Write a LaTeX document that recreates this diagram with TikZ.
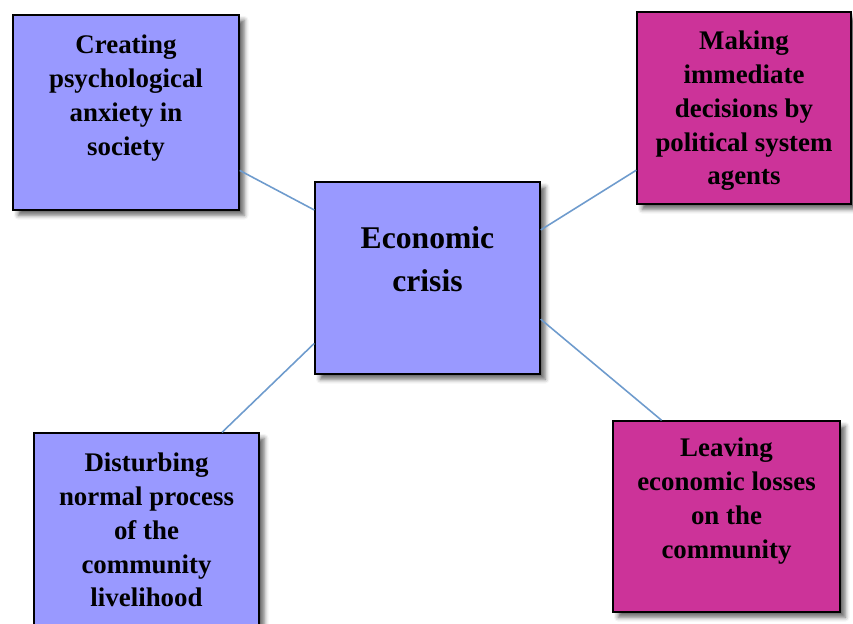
\documentclass[tikz,border=0pt]{standalone}
\usepackage{fontspec}
\setmainfont{Liberation Serif}
\usetikzlibrary{shadows.blur}
\definecolor{lavender}{HTML}{9999FF}
\definecolor{berry}{HTML}{CC3399}
\definecolor{linkblue}{RGB}{110,155,205}
\tikzset{%
  box/.style={draw=black, line width=0.8pt, inner sep=0pt,
              blur shadow={shadow xshift=3pt, shadow yshift=-3pt,
                           shadow blur radius=2.5pt, shadow opacity=60}},
  bluebox/.style={box, fill=lavender},
  pinkbox/.style={box, fill=berry},
  boxtext/.style={anchor=north, inner sep=0pt, align=center,
                  font=\bfseries\fontsize{15.3}{19.3}\selectfont},
  link/.style={draw=linkblue, line width=0.9pt},
}
\begin{document}
\begin{tikzpicture}[x=0.02cm,y=-0.02cm]
  \useasboundingbox (0,0) rectangle (853,623);
  % boxes
  \node[bluebox, minimum width=4.52cm, minimum height=3.9cm] (anxiety) at (126,112.5) {};
  \node[pinkbox, minimum width=4.28cm, minimum height=3.84cm] (decisions) at (744,108) {};
  \node[bluebox, minimum width=4.5cm, minimum height=3.84cm] (crisis) at (427.5,278) {};
  \node[bluebox, minimum width=4.5cm, minimum height=3.84cm] (process) at (146.5,529) {};
  \node[pinkbox, minimum width=4.54cm, minimum height=3.82cm] (losses) at (726.5,516.5) {};
  % texts
  \node[boxtext] (anxietytext) at ([yshift=-0.4cm]anxiety.north)
    {Creating\\psychological\\anxiety in\\society};
  \node[boxtext] (decisionstext) at ([yshift=-0.38cm]decisions.north)
    {Making\\immediate\\decisions by\\political system\\agents};
  \node[boxtext, font=\bfseries\fontsize{18}{24.4}\selectfont] (crisistext)
    at ([yshift=-0.9cm]crisis.north) {Economic\\crisis};
  \node[boxtext] (processtext) at ([yshift=-0.4cm]process.north)
    {Disturbing\\normal process\\of the\\community\\livelihood};
  \node[boxtext] (lossestext) at ([yshift=-0.34cm]losses.north)
    {Leaving\\economic losses\\on the\\community};
  % connectors
  \draw[link] (anxiety.-27) -- (crisis.149);
  \draw[link] (decisions.210) -- (crisis.23);
  \draw[link] (process.52) -- (crisis.210);
  \draw[link] (losses.124) -- (crisis.-20.5);
\end{tikzpicture}
\end{document}
